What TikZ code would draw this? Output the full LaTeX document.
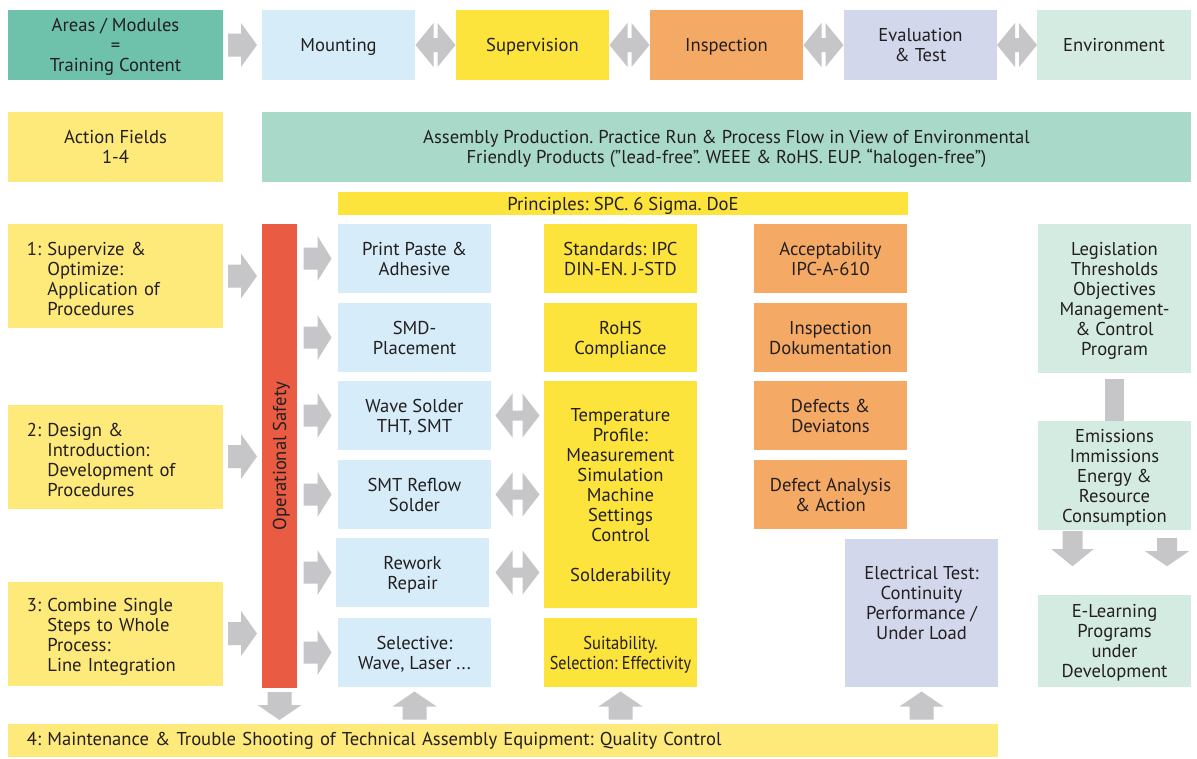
\documentclass[tikz,border=0pt]{standalone}
\usepackage{fontspec}
\usepackage{graphicx}
\setmainfont{PT Sans}
\usetikzlibrary{calc}
\frenchspacing
\definecolor{txt}{HTML}{231F20}
\definecolor{teal1}{HTML}{6EC1AB}
\definecolor{lblue}{HTML}{D6ECF9}
\definecolor{yel}{HTML}{FDE43D}
\definecolor{lyel}{HTML}{FEE97B}
\definecolor{orng}{HTML}{F4A965}
\definecolor{lav}{HTML}{D3D7EB}
\definecolor{mint}{HTML}{D4EBE2}
\definecolor{mint2}{HTML}{A8D9C9}
\definecolor{red1}{HTML}{E95B43}
\definecolor{agray}{HTML}{C6C6C8}
\tikzset{
  basebox/.style={inner sep=0pt, font=\fontsize{18.6}{20}\selectfont\frenchspacing, text=txt},
  box/.style={basebox, align=center, text depth=0pt},
  leftbox/.style={basebox, fill=lyel, minimum width=215, minimum height=104, text width=177, align=left,
    execute at begin node={\rule{0pt}{19.5pt}}},
  colbox/.style={box, minimum width=153, minimum height=69},
  pics/blk/.style n args={4}{code={
    \fill[agray] ({-#1/2},{-#4}) -- ({#1/2-#2},{-#4}) -- ({#1/2-#2},{-#3}) -- ({#1/2},0)
      -- ({#1/2-#2},{#3}) -- ({#1/2-#2},{#4}) -- ({-#1/2},{#4}) -- cycle;}},
  pics/dbl/.style n args={4}{code={
    \fill[agray] ({-#1},0) -- ({-#2},{-#3}) -- ({-#2},{-#4}) -- ({#2},{-#4}) -- ({#2},{-#3})
      -- ({#1},0) -- ({#2},{#3}) -- ({#2},{#4}) -- ({-#2},{#4}) -- ({-#2},{#3}) -- cycle;}}
}
\begin{document}
\begin{tikzpicture}[x=1pt,y=-1pt]
\useasboundingbox[fill=white] (0,0) rectangle (1197,758);
% top row
\node[box,fill=teal1,minimum width=215,minimum height=70] (areas) at (115.5,45) {Areas / Modules\\=\\Training Content};
\node[box,fill=lblue,minimum width=153,minimum height=70] (mount) at (338.5,45) {Mounting};
\node[box,fill=yel,minimum width=153,minimum height=70] (superv) at (532.5,45) {Supervision};
\node[box,fill=orng,minimum width=153,minimum height=70] (insp) at (726.5,45) {Inspection};
\node[box,fill=lav,minimum width=153,minimum height=70] (evalt) at (920.5,45) {Evaluation\\\& Test};
\node[box,fill=mint,minimum width=154,minimum height=70] (env) at (1114,45) {Environment};
% second row
\node[box,fill=lyel,minimum width=215,minimum height=70] (action) at (115.5,147) {Action Fields\\1-4};
\node[box,fill=mint2,minimum width=929,minimum height=70] (assembly) at (726.5,147) {Assembly Production. Practice Run \& Process Flow in View of Environmental\\Friendly Products (”lead-free”. WEEE \& RoHS. EUP. “halogen-free”)};
\node[box,fill=yel,minimum width=570,minimum height=23] (princ) at (623,203.5) {Principles: SPC. 6 Sigma. DoE};
% left column
\node[leftbox] (f1) at (115.5,276) {1: Supervize \&\\\phantom{1: }Optimize:\\\phantom{1: }Application of\\\phantom{1: }Procedures};
\node[leftbox] (f2) at (115.5,456.5) {2: Design \&\\\phantom{2: }Introduction:\\\phantom{2: }Development of\\\phantom{2: }Procedures};
\node[leftbox] (f3) at (115.5,633.5) {3: Combine Single\\\phantom{3: }Steps to Whole\\\phantom{3: }Process:\\\phantom{3: }Line Integration};
% safety bar
\node[fill=red1,minimum width=35,minimum height=464,inner sep=0pt] (safety) at (279.5,456) {};
\node[box,rotate=90] (safetyl) at (safety.center) {Operational Safety};
% blue column
\node[colbox,fill=lblue] (pp) at (414.5,258.5) {Print Paste \&\\Adhesive};
\node[colbox,fill=lblue] (smd) at (414.5,337.5) {SMD-\\Placement};
\node[colbox,fill=lblue] (wave) at (414.5,415.5) {Wave Solder\\THT, SMT};
\node[colbox,fill=lblue] (reflow) at (414.5,494.5) {SMT Reflow\\Solder};
\node[colbox,fill=lblue] (rework) at (412.5,572.5) {Rework\\Repair};
\node[colbox,fill=lblue] (selective) at (414.5,652.5) {Selective:\\Wave, Laser ...};
% yellow column
\node[colbox,fill=yel] (std) at (620.5,258.5) {Standards: IPC\\DIN-EN. J-STD};
\node[colbox,fill=yel] (rohs) at (620.5,337.5) {RoHS\\Compliance};
\node[colbox,fill=yel,minimum height=227] (temp) at (620.5,494.5) {Temperature\\Profile:\\Measurement\\Simulation\\Machine\\Settings\\Control\\[20pt]Solderability};
\node[colbox,fill=yel] (suit) at (620.5,652.5) {\scalebox{0.89}[1]{Suitability.}\\\scalebox{0.87}[1]{Selection: Effectivity}};
% orange column
\node[colbox,fill=orng] (accept) at (830.5,258.5) {Acceptability\\IPC-A-610};
\node[colbox,fill=orng] (idoc) at (830.5,337.5) {Inspection\\Dokumentation};
\node[colbox,fill=orng] (defects) at (830.5,415.5) {Defects \&\\Deviatons};
\node[colbox,fill=orng] (danalysis) at (830.5,494.5) {Defect Analysis\\\& Action};
\node[colbox,fill=lav,minimum height=148] (etest) at (921.5,613) {Electrical Test:\\Continuity\\Performance /\\Under Load\\\mbox{}};
% right column
\node[colbox,fill=mint,minimum height=149] (legis) at (1114.5,298.5) {Legislation\\Thresholds\\Objectives\\Management-\\\& Control\\Program};
\node[colbox,fill=mint,minimum height=109] (emis) at (1114.5,475.5) {Emissions\\Immissions\\Energy \&\\Resource\\Consumption};
\node[colbox,fill=mint,minimum height=92] (elearn) at (1114.5,641) {E-Learning\\Programs\\under\\Development};
% bottom bar
\node[basebox,fill=lyel,minimum width=990,minimum height=33,text width=952,align=left] (maint) at (503,740.5) {4: Maintenance \& Trouble Shooting of Technical Assembly Equipment: Quality Control};
% block arrows, top row
\path ($(areas.east)!.5!(mount.west)$) pic {blk={29}{16}{22}{11.5}};
\path ($(mount.east)!.5!(superv.west)$) pic {dbl={20}{2}{22}{7}};
\path ($(superv.east)!.5!(insp.west)$) pic {dbl={20}{2}{22}{7}};
\path ($(insp.east)!.5!(evalt.west)$) pic {dbl={20}{2}{22}{7}};
\path ($(evalt.east)!.5!(env.west)$) pic {dbl={20}{2}{22}{7}};
% left arrows
\path ($(f1.east)!.5!(f1.east -| safety.west)$) pic {blk={29}{16}{22.5}{11.5}};
\path ($(f2.east)!.5!(f2.east -| safety.west)$) pic {blk={29}{16}{22.5}{11.5}};
\path ($(f3.east)!.5!(f3.east -| safety.west)$) pic {blk={29}{16}{22.5}{11.5}};
% safety to process arrows
\foreach \n in {pp,smd,wave,reflow,rework,selective}
  \path ($(\n.west -| safety.east)!.5!(\n.west -| selective.west)$) pic {blk={28}{14}{22.5}{11}};
% process <-> temperature
\foreach \n in {wave,reflow,rework}
  \path ($(\n.east -| selective.east)!.5!(\n.east -| temp.west)$) pic {dbl={22}{5}{22}{5}};
% bottom arrows
\path ($(safety.south)!.5!(safety.south |- maint.north)$) pic[rotate=-90] {blk={28}{15}{22}{12}};
\path ($(selective.south)!.5!(selective.south |- maint.north)$) pic[rotate=90] {blk={28}{15}{22}{12}};
\path ($(suit.south)!.5!(suit.south |- maint.north)$) pic[rotate=90] {blk={28}{15}{22}{12}};
\path ($(etest.south)!.5!(etest.south |- maint.north)$) pic[rotate=90] {blk={28}{15}{22}{12}};
% right column connectors
\fill[agray] ([xshift=-9.5pt,yshift=-6pt]legis.south) rectangle ([xshift=9.5pt]emis.north);
\path ($(emis.south)+(-42,18.5)$) pic[rotate=-90] {blk={35}{17}{21}{10}};
\path ($(emis.south)+(52.5,22)$) pic[rotate=-90] {blk={28}{15}{22}{10}};
\end{tikzpicture}
\end{document}
